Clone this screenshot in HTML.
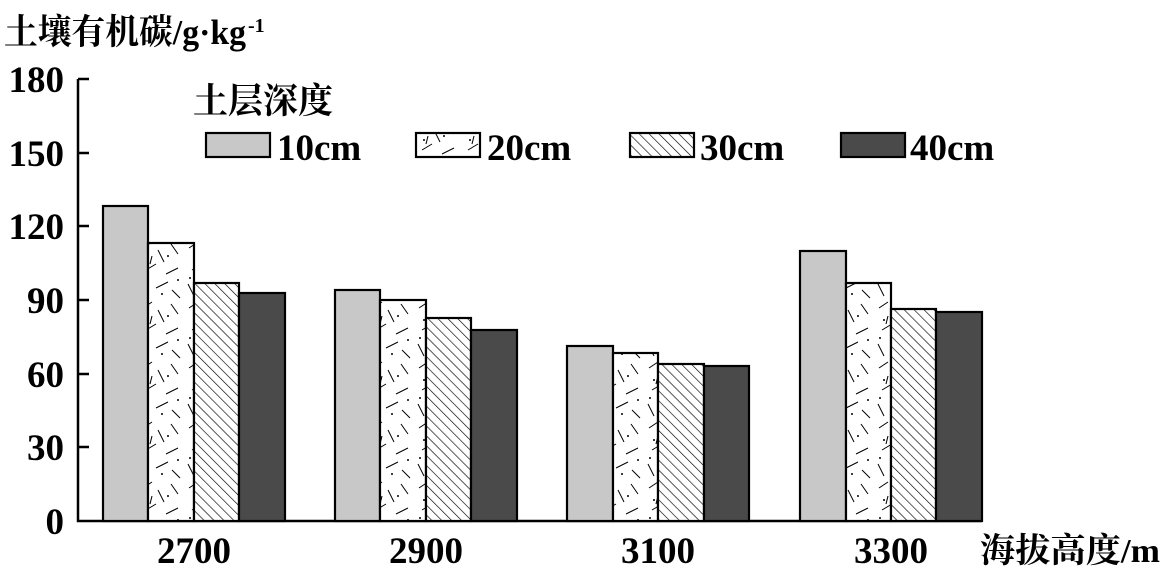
<!DOCTYPE html>
<html><head><style>body{margin:0;background:#fff}svg{display:block}text{font-family:"Liberation Serif","Noto Serif CJK SC",serif;font-weight:bold;fill:#000}</style></head>
<body>
<svg width="1162" height="574" viewBox="0 0 1162 574" xmlns="http://www.w3.org/2000/svg">
<defs>
<pattern id="h" width="7" height="7" patternUnits="userSpaceOnUse" patternTransform="rotate(-45)">
<rect width="7" height="7" fill="#fff"/><line x1="0" y1="0" x2="0" y2="7" stroke="#000" stroke-width="1.3"/></pattern>
<pattern id="r" width="46" height="60" patternUnits="userSpaceOnUse">
<rect width="46" height="60" fill="#fff"/>
<g stroke="#000" stroke-width="1">
<line x1="5" y1="8" x2="14" y2="2"/><line x1="20" y1="10" x2="26" y2="22"/><line x1="33" y1="4" x2="40" y2="14"/>
<line x1="8" y1="30" x2="18" y2="24"/><line x1="28" y1="34" x2="40" y2="28"/><line x1="4" y1="44" x2="10" y2="56"/>
<line x1="18" y1="48" x2="30" y2="42"/><line x1="34" y1="50" x2="42" y2="58"/><line x1="14" y1="16" x2="12" y2="24"/>
</g>
<g fill="#000"><circle cx="10" cy="20" r="1"/><circle cx="30" cy="16" r="1"/><circle cx="24" cy="54" r="1"/><circle cx="40" cy="40" r="1"/><circle cx="6" cy="38" r="1"/></g>
</pattern>
</defs>
<text x="4" y="44" font-size="35" textLength="242" lengthAdjust="spacingAndGlyphs">土壤有机碳/g·kg</text><text x="248" y="32" font-size="20">-1</text>
<g font-size="37" text-anchor="end">
<text x="64" y="92">180</text><text x="64" y="166">150</text><text x="64" y="239">120</text>
<text x="64" y="313">90</text><text x="64" y="387">60</text><text x="64" y="460">30</text><text x="64" y="534">0</text>
</g>
<g stroke="#000" stroke-width="2.5" fill="none">
<path d="M78 79 V521 H982"/>
<path d="M78 79 H89 M78 153 H89 M78 226 H89 M78 300 H89 M78 374 H89 M78 447 H89"/>
</g>
<g stroke="#000" stroke-width="2.2">
<rect x="103" y="206" width="45" height="315" fill="#c8c8c8"/>
<rect x="148" y="243" width="46" height="278" fill="url(#r)"/>
<rect x="194" y="283" width="45" height="238" fill="url(#h)"/>
<rect x="239" y="293" width="46" height="228" fill="#4a4a4a"/>
<rect x="335" y="290" width="45" height="231" fill="#c8c8c8"/>
<rect x="380" y="300" width="46" height="221" fill="url(#r)"/>
<rect x="426" y="318" width="45" height="203" fill="url(#h)"/>
<rect x="471" y="330" width="46" height="191" fill="#4a4a4a"/>
<rect x="567" y="346" width="46" height="175" fill="#c8c8c8"/>
<rect x="613" y="353" width="45" height="168" fill="url(#r)"/>
<rect x="658" y="364" width="46" height="157" fill="url(#h)"/>
<rect x="704" y="366" width="45" height="155" fill="#4a4a4a"/>
<rect x="800" y="251" width="46" height="270" fill="#c8c8c8"/>
<rect x="846" y="283" width="45" height="238" fill="url(#r)"/>
<rect x="891" y="309" width="45" height="212" fill="url(#h)"/>
<rect x="936" y="312" width="46" height="209" fill="#4a4a4a"/>
</g>
<g font-size="37" text-anchor="middle">
<text x="194" y="563">2700</text><text x="426" y="563">2900</text><text x="658" y="563">3100</text><text x="891" y="563">3300</text>
</g>
<text x="980" y="562" font-size="34" textLength="180" lengthAdjust="spacingAndGlyphs">海拔高度/m</text>
<text x="193" y="113" font-size="35">土层深度</text>
<g stroke="#000" stroke-width="2.2">
<rect x="206" y="133" width="64" height="24" fill="#c8c8c8"/>
<rect x="416" y="133" width="64" height="24" fill="url(#r)"/>
<rect x="630" y="133" width="64" height="24" fill="url(#h)"/>
<rect x="841" y="133" width="64" height="24" fill="#4a4a4a"/>
</g>
<g font-size="37">
<text x="277" y="160">10cm</text><text x="487" y="160">20cm</text><text x="700" y="160">30cm</text><text x="910" y="160">40cm</text>
</g>
</svg>
</body></html>
